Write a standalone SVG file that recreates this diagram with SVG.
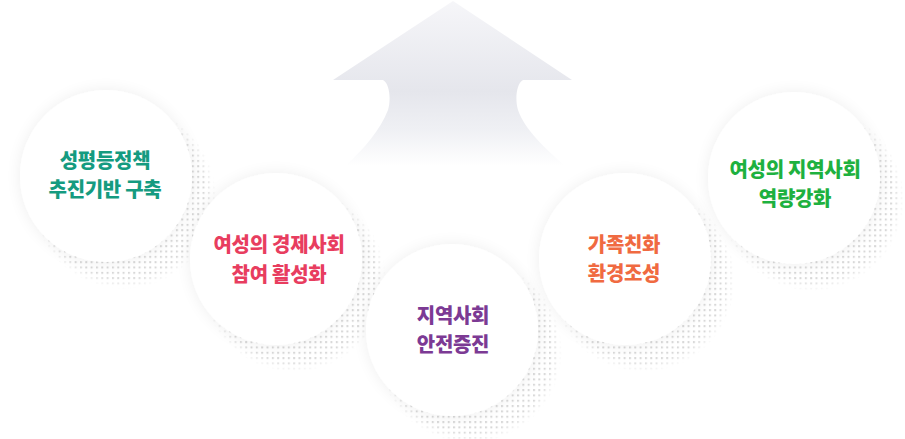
<svg xmlns="http://www.w3.org/2000/svg" width="905" height="439" viewBox="0 0 905 439">
<defs>
<linearGradient id="arrowGrad" x1="0" y1="0" x2="0" y2="166" gradientUnits="userSpaceOnUse">
<stop offset="0" stop-color="#f6f6f9"/>
<stop offset="0.55" stop-color="#e5e6ec"/>
<stop offset="0.78" stop-color="#eff0f4"/>
<stop offset="1" stop-color="#ffffff"/>
</linearGradient>
<pattern id="dots" width="5.33" height="5.33" patternUnits="userSpaceOnUse">
<rect x="0" y="0" width="2" height="2" fill="#d8d8d8"/>
</pattern>
<filter id="glow" x="-30%" y="-30%" width="160%" height="160%">
<feGaussianBlur in="SourceAlpha" stdDeviation="8"/>
<feComponentTransfer><feFuncA type="linear" slope="0.07"/></feComponentTransfer>
<feMerge><feMergeNode/><feMergeNode in="SourceGraphic"/></feMerge>
</filter>
<radialGradient id="fade" cx="0.5" cy="0.5" r="0.5">
<stop offset="0.88" stop-color="#fff" stop-opacity="1"/>
<stop offset="1" stop-color="#fff" stop-opacity="0"/>
</radialGradient>
<mask id="dotMask" maskContentUnits="objectBoundingBox">
<rect x="0" y="0" width="1" height="1" fill="url(#fade)"/>
</mask>
</defs>
<style>
.t{font-family:"Noto Sans CJK KR","Noto Sans",sans-serif;font-weight:900;font-size:20px;text-anchor:middle;letter-spacing:-0.3px}
.dot{fill:url(#dots)}
.c{fill:#ffffff;filter:url(#glow)}
</style>
<g id="arrow">
<path d="M453,1 L333,80 L383,80 C390,84 391,100 388,110 C380,130 365,148 345,166 L565,166 C545,148 525,130 518,110 C515,100 516,84 523,80 L572,80 Z" fill="url(#arrowGrad)"/>
</g>
<g id="node1">
<circle class="dot" cx="124" cy="197" r="92" mask="url(#dotMask)"/>
<circle class="c" cx="106" cy="176" r="86"/>
<text class="t" x="105" y="168" fill="#159b80">성평등정책</text>
<text class="t" x="105" y="197" fill="#159b80">추진기반 구축</text>
</g>
<g id="node2">
<circle class="dot" cx="294" cy="280" r="92" mask="url(#dotMask)"/>
<circle class="c" cx="276" cy="259" r="86"/>
<text class="t" x="279" y="252" fill="#e83d5f">여성의 경제사회</text>
<text class="t" x="279" y="282" fill="#e83d5f">참여 활성화</text>
</g>
<g id="node3">
<circle class="dot" cx="470" cy="351" r="92" mask="url(#dotMask)"/>
<circle class="c" cx="452" cy="330" r="86"/>
<text class="t" x="453" y="323" fill="#7c3a94">지역사회</text>
<text class="t" x="453" y="352" fill="#7c3a94">안전증진</text>
</g>
<g id="node4">
<circle class="dot" cx="643" cy="280" r="92" mask="url(#dotMask)"/>
<circle class="c" cx="625" cy="259" r="86"/>
<text class="t" x="624" y="252" fill="#f06a41">가족친화</text>
<text class="t" x="624" y="281" fill="#f06a41">환경조성</text>
</g>
<g id="node5">
<circle class="dot" cx="812" cy="199" r="92" mask="url(#dotMask)"/>
<circle class="c" cx="794" cy="178" r="86"/>
<text class="t" x="795" y="177" fill="#1eb13f">여성의 지역사회</text>
<text class="t" x="795" y="206" fill="#1eb13f">역량강화</text>
</g>
<g id="connectors"/>
</svg>
